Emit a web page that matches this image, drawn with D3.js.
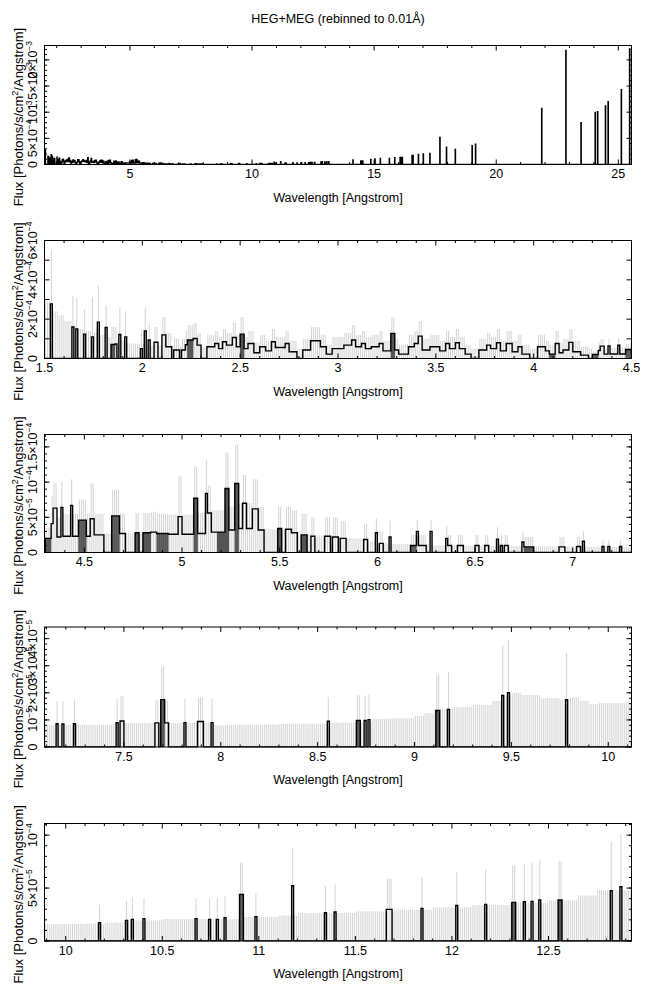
<!DOCTYPE html>
<html><head><meta charset="utf-8">
<script src="https://cdn.jsdelivr.net/npm/d3@7"></script>
<style>body{margin:0;background:#fff}svg{display:block}text{font-family:"Liberation Sans",Arial,Helvetica,sans-serif;fill:#000}</style>
</head><body><svg id="c" width="648" height="991"></svg>
<script>
// ---------- DATA (flux values in units of 1e-5 photons/s/cm^2/Angstrom) ----------
// dense region: [start, end, flux, errorTop, 'd' = densely mixed bins]
const denseRuns = [
[1.50,1.53,0,29],[1.53,1.54,27.7,55],[1.54,1.57,0,24],[1.57,1.60,0,22],[1.60,1.64,0,19],
[1.64,1.65,16,32],[1.65,1.66,0,17],[1.66,1.67,15,31],[1.67,1.70,0,15],[1.70,1.71,12.4,25],
[1.71,1.74,0,14],[1.74,1.75,11,31],[1.75,1.77,0,13],[1.77,1.78,18.5,37],[1.78,1.81,0,12],
[1.81,1.82,15.8,27],[1.82,1.84,0,11],[1.84,1.86,7.1,16,'d'],[1.86,1.87,7.4,16],[1.87,1.88,0,10],
[1.88,1.89,12.2,26],[1.89,1.91,0,9],[1.91,1.92,11,24],[1.92,1.99,0,7.6],[1.99,2.00,5,14.5],
[2.00,2.01,0,7],[2.01,2.02,14,26],[2.02,2.03,0,7],[2.03,2.04,9.4,18],[2.04,2.06,0,6.5],
[2.06,2.08,8.3,16],[2.08,2.10,0,6.5],[2.10,2.12,12,21],[2.12,2.15,6,13],[2.15,2.16,0,6],
[2.16,2.19,4.3,10],[2.19,2.20,0,6],[2.20,2.22,4.3,10],[2.22,2.23,7,14],[2.23,2.26,9.4,17,'d'],
[2.26,2.28,10.2,18],[2.28,2.30,6.8,13],[2.30,2.33,0,5.5],[2.33,2.37,6,12],[2.37,2.39,7.6,14],
[2.39,2.41,5,11],[2.41,2.43,8.5,15],[2.43,2.46,6.8,13],[2.46,2.48,10.7,18],[2.48,2.50,6,12],
[2.50,2.52,12.4,21,'d'],[2.52,2.54,5,11],[2.54,2.57,7.6,14],[2.57,2.60,2.9,8],[2.60,2.63,6,12],
[2.63,2.66,3.9,9],[2.66,2.68,8.5,15],[2.68,2.73,5.6,11],[2.73,2.75,7.6,14],[2.75,2.79,3.4,9],
[2.79,2.82,0,5],[2.82,2.86,4.3,10],[2.86,2.91,9,16],[2.91,2.94,6,12],[2.94,2.97,2.2,7],
[2.97,3.03,5,11],[3.03,3.07,6.8,13],[3.07,3.09,9.4,17],[3.09,3.12,6,12],[3.12,3.14,7.6,14],
[3.14,3.17,5,11],[3.17,3.21,6,12],[3.21,3.23,7.6,14],[3.23,3.27,3.9,9],[3.27,3.29,12.8,21,'d'],
[3.29,3.31,4.3,10],[3.31,3.36,2.2,7],[3.36,3.39,6,12],[3.39,3.41,7.6,14],[3.41,3.43,11.4,19],
[3.43,3.47,4.3,10],[3.47,3.52,6,12],[3.52,3.55,3.9,9],[3.55,3.57,7.6,14],[3.57,3.60,5,11],
[3.60,3.62,8,15],[3.62,3.65,5,11],[3.65,3.68,2.2,7],[3.68,3.72,0,5],[3.72,3.76,4.3,10],
[3.76,3.78,6.8,13],[3.78,3.81,5,11],[3.81,3.83,8,15],[3.83,3.86,3.9,9],[3.86,3.89,7.6,14],
[3.89,3.92,3.4,9],[3.92,3.94,6,12],[3.94,3.98,2.2,7],[3.98,4.02,0,5],[4.02,4.06,6,12],
[4.06,4.08,3.9,9],[4.08,4.11,2.2,7,'d'],[4.11,4.13,7.6,14],[4.13,4.15,2.9,8],[4.15,4.18,4.3,10],
[4.18,4.20,8.2,15],[4.20,4.24,3.4,9],[4.24,4.28,1.7,6],[4.28,4.30,0,5],
[4.30,4.33,2.0,3.5,'d'],[4.33,4.34,4.1,8],[4.34,4.36,6.3,9.8],[4.36,4.38,2.2,5],[4.38,4.39,6.4,10],
[4.39,4.43,2.3,5.5],[4.43,4.44,6.7,10.4],[4.44,4.47,2.3,5.5],[4.47,4.51,4.6,7.5,'d'],[4.51,4.53,2.3,5.5],
[4.53,4.55,4.8,9.8],[4.55,4.60,2.5,5.5],[4.60,4.64,0,2.7],[4.64,4.68,5.2,8.9,'d'],[4.68,4.71,2.7,5.5],
[4.71,4.76,0,2.7],[4.76,4.78,2.8,5.6,'d'],[4.78,4.80,0,2.7],[4.80,4.84,2.8,5.6,'d'],[4.84,4.87,2.9,5.8],
[4.87,4.93,2.7,5.5,'d'],[4.93,4.98,2.6,5.4],[4.98,5.00,5.1,10.8],[5.00,5.06,2.6,5.4],[5.06,5.08,7.7,12.2,'d'],
[5.08,5.12,2.7,5.6],[5.12,5.13,8.4,13.1],[5.13,5.15,5.6,9.5],[5.15,5.18,2.9,6],[5.18,5.22,2.9,6,'d'],
[5.22,5.24,9.1,14.2,'d'],[5.24,5.27,3.2,6.5],[5.27,5.29,9.8,15.3,'d'],[5.29,5.31,3.4,7],[5.31,5.33,7.0,11],
[5.33,5.36,3.4,7],[5.36,5.39,6.2,10.4],[5.39,5.42,3.2,6.5],[5.42,5.49,0,3.3],[5.49,5.51,3.4,6.5,'d'],
[5.51,5.53,0,3.3],[5.53,5.56,3.3,6.5],[5.56,5.59,2.8,6],[5.59,5.61,0,3],[5.61,5.64,2.5,5.5,'d'],
[5.64,5.66,0,2.6],[5.66,5.68,2.3,5],[5.68,5.73,0,2.4],[5.73,5.76,2.3,5],[5.76,5.77,0,2.3],
[5.77,5.80,2.2,5],[5.80,5.81,0,2.2],[5.81,5.84,2.0,4.5],[5.84,5.93,0,2.0],[5.93,5.95,1.85,4],
[5.95,5.99,0,1.6],[5.99,6.00,2.8,4.8],[6.00,6.01,0,1.4],[6.01,6.03,1.3,3],[6.03,6.06,0,1.3],
[6.06,6.07,2.2,4.5],[6.07,6.17,0,1.2],[6.17,6.20,1.0,2.5,'d'],[6.20,6.21,3.0,4.6],[6.21,6.25,1.0,2.5],
[6.25,6.27,0,1.1],[6.27,6.28,3.0,4.6],[6.28,6.35,0,1.0],[6.35,6.36,2.0,3.8],[6.36,6.38,1.0,2.5],
[6.38,6.41,0,1.0],[6.41,6.44,1.0,2.5],[6.44,6.50,0,1.0],[6.50,6.52,1.0,2.5],[6.52,6.55,0,1.0],
[6.55,6.57,1.0,2.5],[6.57,6.61,0,0.95],[6.61,6.62,1.9,3.6],[6.62,6.63,0,0.95],[6.63,6.64,1.0,2.5],
[6.64,6.65,0,0.95],[6.65,6.67,1.0,2.5],[6.67,6.74,0,0.9],[6.74,6.75,1.5,3],[6.75,6.80,0.8,2.2,'d'],
[6.80,6.93,0,0.85],[6.93,6.96,0.8,2.2],[6.96,7.02,0,0.85],[7.02,7.04,0.85,2.2],[7.04,7.05,0,0.85],
[7.05,7.06,1.6,3]
];
// error level of empty bins: [start, end, level]
const floorRuns = [
[7.06,7.45,0.82],[7.45,7.50,0.88],[7.50,7.95,0.89],[7.95,8.05,0.80],[8.05,8.30,0.83],[8.30,8.55,0.86],
[8.55,8.78,0.90],[8.78,8.88,1.04],[8.88,9.00,1.06],[9.00,9.05,1.15],[9.05,9.10,1.25],[9.10,9.20,1.40],
[9.20,9.30,1.48],[9.30,9.40,1.55],[9.40,9.45,1.70],[9.45,9.50,1.90],[9.50,9.55,2.00],[9.55,9.65,1.92],
[9.65,9.75,1.80],[9.75,9.80,1.73],[9.80,9.85,1.82],[9.85,9.90,1.70],[9.90,9.95,1.58],[9.95,10.10,1.62],
[10.10,10.20,1.65],[10.20,10.30,1.75],[10.30,10.50,1.95],[10.50,10.90,2.07],[10.90,11.10,2.26],
[11.10,11.20,2.40],[11.20,11.50,2.64],[11.50,11.70,2.80],[11.70,11.90,2.96],[11.90,12.10,3.18],
[12.10,12.30,3.40],[12.30,12.50,3.58],[12.50,12.65,3.84],[12.65,12.75,4.30],[12.75,12.93,4.80]
];
// isolated filled bins: [start, number of bins, flux, errorTop, 'd']
const singles = [
[7.15,1,0.86,1.70],[7.18,1,0.85,1.70],[7.24,1,0.86,1.72],[7.46,1,0.90,1.78],[7.48,2,0.96,1.88],
[7.66,2,0.89,1.72],[7.69,2,1.75,2.98,'d'],[7.71,2,0.89,1.70],[7.81,1,0.90,1.78],[7.88,3,0.94,1.82],
[7.95,1,0.90,1.77],[8.55,1,0.95,1.85],[8.70,2,0.98,1.91,'d'],[8.74,1,0.98,1.91],[8.76,1,1.01,1.94],
[9.11,2,1.35,2.68,'d'],[9.17,1,1.39,2.77],[9.45,1,1.90,3.75],[9.48,1,2.00,3.96],[9.78,1,1.75,3.47],
[10.17,1,1.73,3.43],[10.31,1,1.95,3.77],[10.34,1,2.04,4.06],[10.40,1,2.11,4.06],[10.67,1,2.11,4.06],
[10.74,1,2.04,4.00],[10.78,1,2.04,4.06],[10.82,1,2.20,4.31],[10.90,2,4.40,7.39,'d'],[10.98,1,2.30,4.47],
[11.17,1,5.22,8.77],[11.34,1,2.67,5.19],[11.39,1,2.74,5.35],[11.66,3,2.99,5.88],[11.84,1,3.08,6.04],
[12.02,1,3.36,6.57],[12.17,1,3.46,6.76],[12.31,2,3.65,7.14,'d'],[12.37,1,3.71,7.30],[12.41,1,3.74,7.39],
[12.45,1,3.87,7.61],[12.55,2,3.87,7.55,'d'],[12.82,1,4.75,9.40],[12.87,1,5.13,10.13]
];
// long-wavelength bins (full-range panel): [wavelength, flux]
const spikes = [
[12.97,5.0],[13.06,5.2],[13.14,5.5],[14.13,8.9],[14.45,7.0],[14.49,7.0],[14.53,7.0],[14.86,9.6],
[15.03,10.8],[15.25,11.5],[15.62,11.5],[15.84,12.8],[16.06,13.4],[16.11,13.4],[16.15,13.4],
[16.55,17.2],[16.59,17.2],[16.81,19.1],[17.01,20.4],[17.28,21.0],[17.69,51.7],[17.96,33.0],
[18.32,28.7],[19.01,36.0],[19.15,39.0],[21.86,107],[22.85,218],[23.47,80],[24.05,99.5],
[24.15,101],[24.47,112],[24.58,120],[25.12,143],[25.46,221]
];
// axes
const xDomains = [[1.5,25.54],[1.5,4.5],[4.296,7.301],[7.09,10.12],[9.89,12.93]];
const yMaxes = [2.275e-3,6.0e-4,1.676e-4,4.43e-5,1.11e-4];
const xTickLabels = [[5,10,15,20,25],[1.5,2,2.5,3,3.5,4,4.5],[4.5,5,5.5,6,6.5,7],[7.5,8,8.5,9,9.5,10],[10,10.5,11,11.5,12,12.5]];
const yTickLabels = [
 [[0,"0",""],[5e-4,"5×10","−4"],[1e-3,"10","−3"],[1.5e-3,"1.5×10","−3"],[2e-3,"2×10","−3"]],
 [[0,"0",""],[2e-4,"2×10","−4"],[4e-4,"4×10","−4"],[6e-4,"6×10","−4"]],
 [[0,"0",""],[5e-5,"5×10","−5"],[1e-4,"10","−4"],[1.5e-4,"1.5×10","−4"]],
 [[0,"0",""],[1e-5,"10","−5"],[2e-5,"2×10","−5"],[3e-5,"3×10","−5"],[4e-5,"4×10","−5"]],
 [[0,"0",""],[5e-5,"5×10","−5"],[1e-4,"10","−4"]]
];
const xMinorStep = [1,0.1,0.1,0.1,0.1];
const xMajorStep = [5,0.5,0.5,0.5,0.5];
const yMajorStep = [5e-4,1e-4,5e-5,1e-5,5e-5];
const yMinorStep = [1e-4,null,1e-5,2e-6,1e-5];
const showErrors = [false,true,true,true,true];

// ---------- BUILD BINS ----------
const bins = new Map();
const key = l => Math.round(l*100);
denseRuns.forEach(([a,b,f,e,d]) => { for(let k=key(a);k<key(b);k++) bins.set(k,{f:f*1e-5,e:e*1e-5,d:d==='d'}); });
floorRuns.forEach(([a,b,e]) => { for(let k=key(a);k<key(b);k++) bins.set(k,{f:0,e:e*1e-5,d:false}); });
singles.forEach(([a,n,f,e,d]) => { for(let k=key(a);k<key(a)+n;k++) bins.set(k,{f:f*1e-5,e:e*1e-5,d:d==='d'}); });
spikes.forEach(([a,f]) => bins.set(key(a),{f:f*1e-5,e:0,d:false}));

// ---------- DRAW ----------
const svg = d3.select("#c");
svg.append("rect").attr("width",648).attr("height",991).attr("fill","#fff");
const L = 44.5, R = 631.5;
const layout = [{t:45.5,b:164.5},{t:240.5,b:358.5},{t:434.5,b:552.5},{t:627,b:747},{t:823.5,b:941}];
const FS = 12.5;

svg.append("text").attr("x",(L+R)/2).attr("y",22.5).attr("text-anchor","middle").attr("font-size",FS)
  .text("HEG+MEG (rebinned to 0.01Å)");

function rangeStep(a,b,s){ const out=[]; const n0=Math.ceil(a/s-1e-6), n1=Math.floor(b/s+1e-6); for(let n=n0;n<=n1;n++) out.push(+(n*s).toFixed(10)); return out; }

layout.forEach((lay,i) => {
  const xs = d3.scaleLinear().domain(xDomains[i]).range([L,R]);
  const ys = d3.scaleLinear().domain([0,yMaxes[i]]).range([lay.b,lay.t]);
  const g = svg.append("g");
  const cid = "clip"+i;
  g.append("clipPath").attr("id",cid).append("rect").attr("x",L).attr("y",lay.t-1).attr("width",R-L).attr("height",lay.b-lay.t+1.5);
  const pg = g.append("g").attr("clip-path",`url(#${cid})`);
  const k0 = Math.floor(xDomains[i][0]*100), k1 = Math.ceil(xDomains[i][1]*100);
  const arr = [];
  for(let k=k0;k<k1;k++){ const b = bins.get(k)||{f:0,e:0,d:false}; arr.push({k,f:b.f,e:b.e,d:b.d}); }
  if(showErrors[i]){
    pg.selectAll("line.err").data(arr.filter(d=>d.e>0)).join("line").attr("class","err")
      .attr("x1",d=>xs((d.k+0.5)/100)).attr("x2",d=>xs((d.k+0.5)/100))
      .attr("y1",ys(0)).attr("y2",d=>ys(d.e)).attr("stroke","#cfcfcf").attr("stroke-width",0.9);
    pg.selectAll("rect.dk").data(arr.filter(d=>d.d&&d.f>0)).join("rect").attr("class","dk")
      .attr("x",d=>xs(d.k/100)-0.2).attr("width",d=>xs((d.k+1)/100)-xs(d.k/100)+0.4)
      .attr("y",d=>ys(d.f)).attr("height",d=>ys(0)-ys(d.f)).attr("fill","#555");
  }
  const pts = [[k0/100,0]];
  arr.forEach(d => { pts.push([d.k/100,d.f],[(d.k+1)/100,d.f]); });
  pts.push([k1/100,0]);
  pg.append("path").attr("d",d3.line().x(p=>xs(p[0])).y(p=>ys(p[1]))(pts))
    .attr("fill","none").attr("stroke","#000").attr("stroke-width",1.4);

  // frame
  g.append("rect").attr("x",L).attr("y",lay.t).attr("width",R-L).attr("height",lay.b-lay.t)
    .attr("fill","none").attr("stroke","#000").attr("stroke-width",1);
  // x ticks
  const xMaj = rangeStep(xDomains[i][0],xDomains[i][1],xMajorStep[i]);
  const xMin = rangeStep(xDomains[i][0],xDomains[i][1],xMinorStep[i]);
  const tk = g.append("g").attr("stroke","#000").attr("stroke-width",1);
  xMin.forEach(v => { const len = xMaj.some(m=>Math.abs(m-v)<1e-6)?5:2.5;
    tk.append("line").attr("x1",xs(v)).attr("x2",xs(v)).attr("y1",lay.b).attr("y2",lay.b-len);
    tk.append("line").attr("x1",xs(v)).attr("x2",xs(v)).attr("y1",lay.t).attr("y2",lay.t+len); });
  // y ticks
  const yMaj = rangeStep(0,yMaxes[i],yMajorStep[i]);
  yMaj.forEach(v => {
    tk.append("line").attr("x1",L).attr("x2",L+5).attr("y1",ys(v)).attr("y2",ys(v));
    tk.append("line").attr("x1",R).attr("x2",R-5).attr("y1",ys(v)).attr("y2",ys(v)); });
  if(yMinorStep[i]){
    rangeStep(0,yMaxes[i],yMinorStep[i]).forEach(v => {
      tk.append("line").attr("x1",L).attr("x2",L+2.5).attr("y1",ys(v)).attr("y2",ys(v));
      tk.append("line").attr("x1",R).attr("x2",R-2.5).attr("y1",ys(v)).attr("y2",ys(v)); });
  }
  // x tick labels
  g.selectAll("text.xl").data(xTickLabels[i]).join("text").attr("class","xl")
    .attr("x",d=>xs(d)).attr("y",lay.b+13.5).attr("text-anchor","middle").attr("font-size",FS).text(d=>String(d));
  // y tick labels
  yTickLabels[i].forEach(([v,m,ex]) => {
    const t = g.append("text").attr("transform",`translate(36.5,${ys(v)}) rotate(-90)`)
      .attr("text-anchor","middle").attr("font-size",FS);
    t.append("tspan").text(m);
    if(ex) t.append("tspan").attr("dy",-4.5).attr("font-size",8.5).text(ex);
  });
  // axis titles
  g.append("text").attr("x",(L+R)/2).attr("y",lay.b+37).attr("text-anchor","middle").attr("font-size",FS)
    .text("Wavelength [Angstrom]");
  const yt = g.append("text").attr("transform",`translate(22.5,${(lay.t+lay.b)/2+12}) rotate(-90)`)
    .attr("text-anchor","middle").attr("font-size",13);
  yt.append("tspan").text("Flux [Photons/s/cm");
  yt.append("tspan").attr("dy",-4.5).attr("font-size",9).text("2");
  yt.append("tspan").attr("dy",4.5).text("/Angstrom]");
});
</script></body></html>
